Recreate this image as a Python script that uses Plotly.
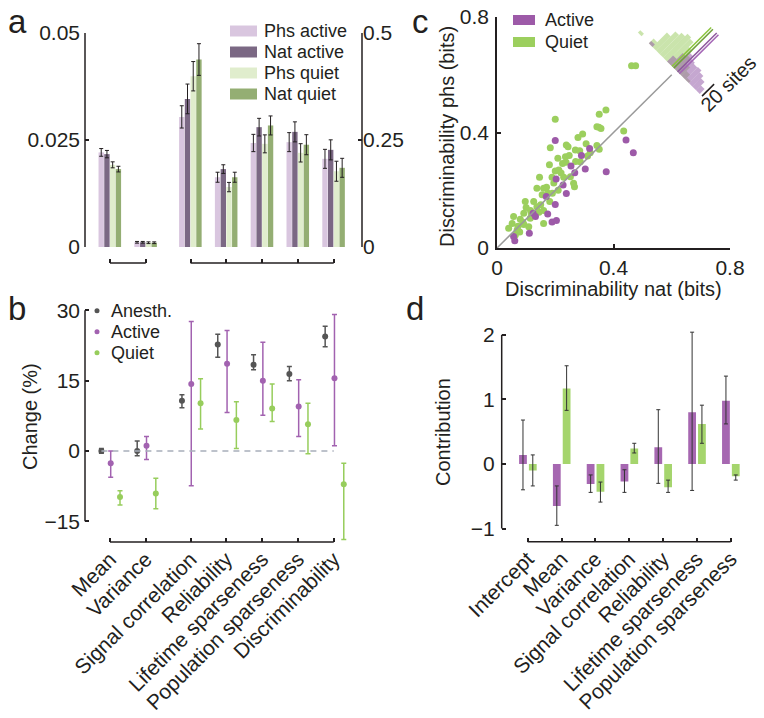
import math
import plotly.graph_objects as go

W, H = 764, 718
FONT = "Liberation Sans, Arial, sans-serif"
INK = "#231f20"


def px(x):
    return x / W


def py(y):
    return 1 - y / H


# ---------------- data ----------------
# panel a / b categories (shared x positions)
b_categories = ["Mean", "Variance", "Signal correlation", "Reliability",
                "Lifetime sparseness", "Population sparseness", "Discriminability"]
cat_pos = [0, 1, 2.25, 3.25, 4.25, 5.25, 6.25]
left_axis_idx = [0, 1]            # plotted against left axis (0-0.05)
right_axis_idx = [2, 3, 4, 5, 6]  # plotted against right axis (0-0.5)

a_series = ["Phs active", "Nat active", "Phs quiet", "Nat quiet"]
a_phs_active = [0.0221, 0.0011, 0.304, 0.163, 0.243, 0.245, 0.206]
a_phs_active_err = [0.0009, 0.0002, 0.026, 0.0117, 0.0202, 0.0222, 0.0222]
a_nat_active = [0.0217, 0.0011, 0.346, 0.182, 0.280, 0.269, 0.227]
a_nat_active_err = [0.00086, 0.0002, 0.0347, 0.0101, 0.0206, 0.0234, 0.0234]
a_phs_quiet = [0.0192, 0.0010, 0.399, 0.140, 0.241, 0.220, 0.177]
a_phs_quiet_err = [0.0007, 0.0002, 0.0343, 0.0109, 0.0210, 0.0214, 0.0234]
a_nat_quiet = [0.0182, 0.0010, 0.438, 0.163, 0.284, 0.239, 0.185]
a_nat_quiet_err = [0.00066, 0.0002, 0.037, 0.0117, 0.0222, 0.0234, 0.0222]

# panel b: change (%)
b_series = ["Anesth.", "Active", "Quiet"]
b_anesth = [0.0, 0.0, 10.7, 22.7, 18.4, 16.4, 24.4]
b_anesth_lo = [-0.5, -1.0, 9.2, 20.0, 17.3, 15.0, 22.2]
b_anesth_hi = [0.5, 2.1, 12.0, 24.9, 20.5, 18.0, 26.6]
b_active = [-2.6, 1.1, 14.3, 18.6, 15.0, 9.5, 15.5]
b_active_lo = [-5.6, -1.8, -7.4, 8.2, 7.6, 3.1, 1.1]
b_active_hi = [0.0, 3.1, 27.6, 25.7, 23.2, 15.2, 29.1]
b_quiet = [-9.8, -9.05, 10.2, 6.6, 9.05, 5.7, -7.1]
b_quiet_lo = [-11.5, -12.3, 4.7, 0.5, 6.3, -0.6, -18.9]
b_quiet_hi = [-8.5, -5.8, 15.4, 10.5, 14.3, 10.2, -2.6]

# panel c: discriminability scatter
quiet_nat = [0.462, 0.476, 0.200, 0.351, 0.374, 0.343, 0.357, 0.350, 0.435, 0.278,
             0.294, 0.238, 0.244, 0.183, 0.306, 0.343, 0.351, 0.269, 0.284, 0.209,
             0.235, 0.248, 0.237, 0.311, 0.180, 0.225, 0.286, 0.200, 0.212, 0.146,
             0.189, 0.229, 0.252, 0.266, 0.263, 0.137, 0.160, 0.155, 0.175, 0.097,
             0.126, 0.181, 0.137, 0.150, 0.144, 0.160, 0.092, 0.114, 0.057, 0.052,
             0.092, 0.160, 0.109, 0.040, 0.069, 0.063, 0.078, 0.072, 0.118, 0.089,
             0.220, 0.195, 0.170, 0.210, 0.270, 0.320, 0.115, 0.080, 0.100, 0.190]
quiet_phs = [0.631, 0.631, 0.446, 0.463, 0.478, 0.420, 0.414, 0.418, 0.405, 0.383,
             0.395, 0.357, 0.351, 0.347, 0.361, 0.355, 0.342, 0.339, 0.337, 0.311,
             0.316, 0.320, 0.297, 0.319, 0.288, 0.293, 0.299, 0.267, 0.270, 0.245,
             0.245, 0.245, 0.247, 0.212, 0.224, 0.207, 0.207, 0.184, 0.190, 0.161,
             0.161, 0.161, 0.143, 0.150, 0.124, 0.130, 0.120, 0.103, 0.109, 0.085,
             0.081, 0.085, 0.074, 0.068, 0.062, 0.045, 0.055, 0.075, 0.115, 0.089,
             0.260, 0.225, 0.210, 0.200, 0.300, 0.330, 0.130, 0.100, 0.140, 0.190]
active_nat = [0.200, 0.318, 0.290, 0.254, 0.303, 0.267, 0.203, 0.375, 0.443, 0.468,
              0.227, 0.238, 0.169, 0.200, 0.124, 0.132, 0.174, 0.189, 0.204, 0.111,
              0.057, 0.061]
active_phs = [0.372, 0.345, 0.320, 0.284, 0.274, 0.261, 0.239, 0.264, 0.374, 0.330,
              0.218, 0.189, 0.178, 0.151, 0.120, 0.109, 0.118, 0.090, 0.095, 0.051,
              0.040, 0.025]

# panel c inset histogram of (phs - nat), counts in sites
hist_delta = [-0.15, -0.125, -0.1, -0.075, -0.05, -0.025, 0.0, 0.025, 0.05,
              0.075, 0.1, 0.125, 0.15, 0.175, 0.2, 0.225, 0.25]
hist_quiet = [0, 0, 0, 3, 8, 14, 22, 30, 38, 40, 36, 32, 24, 8, 0, 0, 4]
hist_active = [8, 14, 18, 21, 20, 22, 26, 20, 10, 0, 0, 0, 0, 4, 0, 0, 0]
quiet_line_delta = [0.028, 0.016]
active_line_delta = [-0.010, -0.022]
scale_sites = 20

# panel d: contribution
d_categories = ["Intercept", "Mean", "Variance", "Signal correlation",
                "Reliability", "Lifetime sparseness", "Population sparseness"]
d_pos = [0, 1, 2, 3, 4, 5, 6]
d_active = [0.14, -0.65, -0.31, -0.27, 0.26, 0.80, 0.98]
d_active_lo = [-0.40, -0.95, -0.44, -0.44, -0.30, -0.41, 0.62]
d_active_hi = [0.68, -0.34, -0.17, -0.09, 0.84, 2.04, 1.36]
d_quiet = [-0.10, 1.17, -0.43, 0.24, -0.36, 0.62, -0.19]
d_quiet_lo = [-0.34, 0.83, -0.59, 0.17, -0.44, 0.32, -0.25]
d_quiet_hi = [0.14, 1.52, -0.28, 0.32, -0.25, 0.91, -0.17]

# ---------------- styles ----------------
a_colors = ["#d9c6df", "#7b6884", "#e0edcd", "#94ae73"]
a_offsets = [-0.32, -0.16, 0.0, 0.16]
a_width = 0.15
b_colors = ["#555555", "#a262b0", "#97cd5c"]
b_offsets = [-0.24, 0.02, 0.28]
c_green = "#9ccf5e"
c_purple = "#9d5aa8"
d_colors = ["#a667b1", "#a5d56d"]

fig = go.Figure()

# ---- panel a ----
a_vals = [a_phs_active, a_nat_active, a_phs_quiet, a_nat_quiet]
a_errs = [a_phs_active_err, a_nat_active_err, a_phs_quiet_err, a_nat_quiet_err]
for i, name in enumerate(a_series):
    for idx, yax in ((left_axis_idx, "y"), (right_axis_idx, "y2")):
        fig.add_trace(go.Bar(
            x=[cat_pos[j] for j in idx], y=[a_vals[i][j] for j in idx],
            width=a_width, offset=a_offsets[i], name=name,
            marker=dict(color=a_colors[i], line=dict(width=0)),
            error_y=dict(type="data", array=[a_errs[i][j] for j in idx],
                         color=INK, thickness=1, width=2),
            xaxis="x", yaxis=yax, showlegend=False))

# ---- panel b ----
b_vals = [b_anesth, b_active, b_quiet]
b_los = [b_anesth_lo, b_active_lo, b_quiet_lo]
b_his = [b_anesth_hi, b_active_hi, b_quiet_hi]
for i, name in enumerate(b_series):
    v, lo, hi = b_vals[i], b_los[i], b_his[i]
    fig.add_trace(go.Scatter(
        x=[p + b_offsets[i] for p in cat_pos], y=v, mode="markers", name=name,
        marker=dict(color=b_colors[i], size=6),
        error_y=dict(type="data", symmetric=False,
                     array=[h - y for h, y in zip(hi, v)],
                     arrayminus=[y - l for y, l in zip(v, lo)],
                     color=b_colors[i], thickness=1.5, width=2.5),
        xaxis="x2", yaxis="y3", showlegend=False))

# ---- panel c ----
fig.add_trace(go.Scatter(x=quiet_nat, y=quiet_phs, mode="markers", name="Quiet",
                         marker=dict(color=c_green, size=7), xaxis="x3", yaxis="y4",
                         showlegend=False))
fig.add_trace(go.Scatter(x=active_nat, y=active_phs, mode="markers", name="Active",
                         marker=dict(color=c_purple, size=7), xaxis="x3", yaxis="y4",
                         showlegend=False))

# ---- panel d ----
d_vals = [d_active, d_quiet]
d_los = [d_active_lo, d_quiet_lo]
d_his = [d_active_hi, d_quiet_hi]
d_offsets = [-0.255, 0.035]
for i, name in enumerate(["Active", "Quiet"]):
    v, lo, hi = d_vals[i], d_los[i], d_his[i]
    fig.add_trace(go.Bar(
        x=d_pos, y=v, width=0.23, offset=d_offsets[i], name=name,
        marker=dict(color=d_colors[i], line=dict(width=0)),
        error_y=dict(type="data", symmetric=False,
                     array=[h - y for h, y in zip(hi, v)],
                     arrayminus=[y - l for y, l in zip(v, lo)],
                     color="#333333", thickness=1, width=2),
        xaxis="x4", yaxis="y5", showlegend=False))

# ---------------- shapes ----------------
shapes = []


def seg(x0, y0, x1, y1, xref, yref, width=1.5, color=INK, dash=None):
    ln = dict(color=color, width=width)
    if dash:
        ln["dash"] = dash
    shapes.append(dict(type="line", x0=x0, y0=y0, x1=x1, y1=y1,
                       xref=xref, yref=yref, line=ln, layer="above"))


# panel a axes
seg(0, 0, 0, 0.05, "x domain", "y")
seg(1, 0, 1, 0.5, "x domain", "y2")
seg(cat_pos[left_axis_idx[0]], py(263), cat_pos[left_axis_idx[-1]], py(263), "x", "paper")
seg(cat_pos[right_axis_idx[0]], py(263), cat_pos[right_axis_idx[-1]], py(263), "x", "paper")
# panel b axes
seg(0, -15, 0, 30, "x2 domain", "y3")
seg(cat_pos[0], py(542), cat_pos[-1], py(542), "x2", "paper")
seg(cat_pos[0] + b_offsets[0], 0, cat_pos[-1], 0, "x2", "y3", width=1.5,
    color="#a8aeba", dash="6px,5px")
# panel d axes
seg(0, -1, 0, 2, "x4 domain", "y5")
seg(d_pos[0], py(541.7), d_pos[-1], py(541.7), "x4", "paper")

# panel c identity line
seg(0, 0, 0.6, 0.6, "x3", "y4", width=1.5, color="#9a9a9a")

# panel c inset histogram (rotated 45 degrees)
R2 = math.sqrt(2)
B0 = 0.615
SITE = 0.00293
BW = 0.025


def dpt(s, t):
    return (B0 + (-s + t) / R2, B0 + (s + t) / R2)


def hist_shapes(counts, color):
    for dc, n in zip(hist_delta, counts):
        if n <= 0:
            continue
        s0, s1 = (dc - BW / 2) / R2, (dc + BW / 2) / R2
        t1 = n * SITE
        pts = [dpt(s0, 0), dpt(s1, 0), dpt(s1, t1), dpt(s0, t1)]
        path = "M " + " L ".join(f"{x:.5f},{y:.5f}" for x, y in pts) + " Z"
        shapes.append(dict(type="path", path=path, xref="x3", yref="y4",
                           fillcolor=color, line=dict(width=0), layer="above"))


hist_shapes(hist_quiet, "rgba(158,206,104,0.55)")
hist_shapes(hist_active, "rgba(150,95,170,0.55)")
for dl, col in zip(quiet_line_delta, ["#8cc63f", "#6f9f3a"]):
    p0, p1 = dpt(dl / R2, 0), dpt(dl / R2, 0.19)
    seg(p0[0], p0[1], p1[0], p1[1], "x3", "y4", width=1.5, color=col)
for dl, col in zip(active_line_delta, ["#8e5a9e", "#a365b5"]):
    p0, p1 = dpt(dl / R2, 0), dpt(dl / R2, 0.19)
    seg(p0[0], p0[1], p1[0], p1[1], "x3", "y4", width=1.5, color=col)
# scale bar
sb0 = (0.704, 0.526)
sbl = scale_sites * SITE / R2
seg(sb0[0], sb0[1], sb0[0] + sbl, sb0[1] + sbl, "x3", "y4", width=1.5)

# legends (manual)
for i, col in enumerate(a_colors):
    yc = 31 + 21 * i
    shapes.append(dict(type="rect", xref="paper", yref="paper", x0=px(230), x1=px(257),
                       y0=py(yc + 5.5), y1=py(yc - 5.5), fillcolor=col,
                       line=dict(width=0)))
for i, col in enumerate(b_colors):
    yc = 310.7 + 21 * i
    shapes.append(dict(type="circle", xref="paper", yref="paper", x0=px(94.5), x1=px(99.5),
                       y0=py(yc + 2.5), y1=py(yc - 2.5), fillcolor=col,
                       line=dict(width=0)))
for i, col in enumerate([c_purple, c_green]):
    yc = 20 + 22 * i
    shapes.append(dict(type="rect", xref="paper", yref="paper", x0=px(513), x1=px(535),
                       y0=py(yc + 5), y1=py(yc - 5), fillcolor=col,
                       line=dict(width=0)))

# ---------------- annotations ----------------
anns = []


def ann(text, x, y, size=20, xanchor="center", yanchor="middle", angle=0):
    anns.append(dict(text=text, x=px(x), y=py(y), xref="paper", yref="paper",
                     showarrow=False, textangle=angle, xanchor=xanchor,
                     yanchor=yanchor, font=dict(family=FONT, size=size, color=INK)))


ann("a", 17, 1, size=33, yanchor="top")
ann("b", 17, 309, size=33)
ann("c", 420, 1, size=33, yanchor="top")
ann("d", 415, 309, size=33)
for i, name in enumerate(a_series):
    ann(name, 262, 31 + 21 * i, size=18, xanchor="left")
for i, name in enumerate(b_series):
    ann(name, 109, 310.7 + 21 * i, size=18, xanchor="left")
for i, name in enumerate(["Active", "Quiet"]):
    ann(name, 543, 20 + 22 * i, size=18, xanchor="left")
ann("Change (%)", 30, 417, size=20, angle=-90)
ann("Discriminability phs (bits)", 447, 137, size=20, angle=-90)
ann("Discriminability nat (bits)", 613, 289, size=20)
ann("Contribution", 443, 432, size=20, angle=-90)
ann(f"{scale_sites} sites", 728, 84, size=20, angle=-45)

# ---------------- axes ----------------
tickfont = dict(family=FONT, size=21, color=INK)


def axis(**kw):
    base = dict(showgrid=False, zeroline=False, showline=False, ticks="inside",
                ticklen=4, tickwidth=1.5, tickcolor=INK, tickfont=tickfont,
                automargin=False)
    base.update(kw)
    return base


xr_ab = [-0.698, 7.039]
fig.update_layout(
    width=W, height=H, margin=dict(l=0, r=0, t=0, b=0, autoexpand=False),
    paper_bgcolor="white", plot_bgcolor="rgba(0,0,0,0)",
    barmode="overlay", showlegend=False,
    font=dict(family=FONT, color=INK),
    xaxis=axis(domain=[px(85), px(362)], range=xr_ab, anchor="free",
               position=py(263), tickvals=cat_pos, showticklabels=False),
    yaxis=axis(domain=[py(247), py(33)], range=[0, 0.05], anchor="x",
               tickvals=[0, 0.025, 0.05], ticktext=["0", "0.025", "0.05"],
               ticklabelstandoff=4),
    yaxis2=axis(overlaying="y", side="right", anchor="x", range=[0, 0.5],
                tickvals=[0, 0.25, 0.5], ticktext=["0", "0.25", "0.5"],
                ticklabelstandoff=0),
    xaxis2=axis(domain=[px(85), px(362)], range=xr_ab, anchor="free",
                position=py(542), tickvals=cat_pos, ticktext=b_categories,
                tickangle=-45),
    yaxis3=axis(domain=[py(547.1), py(305.6)], range=[-20.5, 31], anchor="x2",
                tickvals=[-15, 0, 15, 30], ticktext=["\u221215", "0", "15", "30"],
                ticklabelstandoff=4),
    xaxis3=axis(domain=[px(497), px(730)], range=[0, 0.8], anchor="y4",
                showline=True, linecolor=INK, linewidth=1.5,
                tickvals=[0, 0.4, 0.8], ticktext=["0", "0.4", "0.8"]),
    yaxis4=axis(domain=[py(248), py(17)], range=[0, 0.8], anchor="x3",
                showline=True, linecolor=INK, linewidth=1.5,
                tickvals=[0, 0.4, 0.8], ticktext=["0", "0.4", "0.8"],
                ticklabelstandoff=2),
    xaxis4=axis(domain=[px(501.7), px(750)], range=[-0.769, 6.571], anchor="free",
                position=py(541.7), tickvals=d_pos, ticktext=d_categories,
                tickangle=-45),
    yaxis5=axis(domain=[py(531.8), py(328.3)], range=[-1.05, 2.1], anchor="x4",
                tickvals=[-1, 0, 1, 2], ticktext=["\u22121", "0", "1", "2"],
                ticklabelstandoff=6),
    shapes=shapes, annotations=anns,
)

fig.write_html("out.html",
               config={"displayModeBar": False},
               post_script="document.body.style.margin='0';"
                           "document.body.style.padding='0';"
                           "document.documentElement.style.overflow='hidden';")
